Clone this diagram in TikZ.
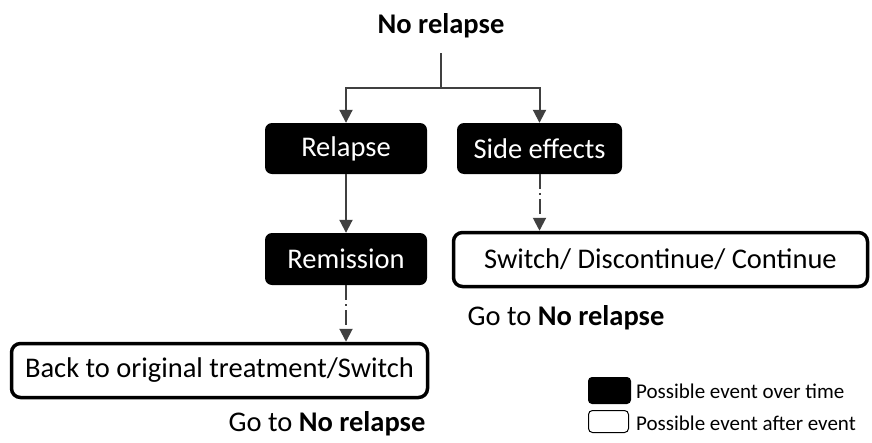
\documentclass[tikz,border=0pt]{standalone}
\usepackage{fontspec}
\setmainfont{Carlito}
\usetikzlibrary{arrows.meta}
\definecolor{linegray}{HTML}{404040}
\tikzset{
  evtime/.style={fill=black, text=white, rounded corners=7pt, inner sep=0pt,
    minimum width=162pt, minimum height=51pt, font=\fontsize{28.5}{33}\selectfont},
  evafter/.style={draw=black, line width=3.5pt, fill=white, rounded corners=9pt, inner sep=0pt,
    minimum height=54pt, font=\fontsize{28.5}{33}\selectfont},
  flow/.style={draw=linegray, line width=2pt, -{Triangle[length=13pt,width=13pt]}},
  dashflow/.style={flow, dash pattern=on 15pt off 4pt on 2pt off 4pt},
  plainlabel/.style={inner sep=0pt, font=\fontsize{28.5}{33}\selectfont},
  legendtext/.style={anchor=west, inner sep=0pt, font=\fontsize{21}{25}\selectfont},
}
\begin{document}
\begin{tikzpicture}[x=1pt,y=-1pt]
\useasboundingbox (0,0) rectangle (872,442);

\node[plainlabel] (title) at (441,26) {\textbf{No relapse}};
\coordinate (top) at (440.5,53);
\coordinate (split) at (440.5,88);

\node[evtime] (relapse) at (346,148.5) {Relapse};
\node[evtime, minimum width=165pt] (side) at (539.5,148.5) {Side effects};
\node[evtime, minimum height=52pt] (remission) at (346,259) {Remission};
\node[evafter, minimum width=414pt] (switch) at (660.5,259.5) {Switch/ Discontinue/ Continue};
\node[evafter, minimum width=416pt] (back) at (219.5,370.5) {Back to original treatment/Switch};

\node[plainlabel] (goto1) at (566,318) {Go to \textbf{No relapse}};
\node[plainlabel] (goto2) at (327,424) {Go to \textbf{No relapse}};

% connectors
\draw[draw=linegray, line width=2pt] (top) -- (split);
\draw[flow] (split) -| (relapse.north);
\draw[flow] (split) -| (side.north);
\draw[flow] (relapse.south) -- (remission.north);
\draw[dashflow] (side.south) -- (side.south |- switch.north);
\draw[dashflow] (remission.south) -- (remission.south |- back.north);

% legend
\node[fill=black, rounded corners=4pt, minimum width=43pt, minimum height=27pt, inner sep=0pt] (legtime) at (609.5,390.5) {};
\node[draw=black, line width=1pt, rounded corners=4pt, minimum width=40pt, minimum height=22pt, inner sep=0pt] (legafter) at (608.5,421.5) {};
\node[legendtext] (legtimetxt) at (636,391) {Possible event over time};
\node[legendtext] (legaftertxt) at (636,423) {Possible event after event};
\end{tikzpicture}
\end{document}
